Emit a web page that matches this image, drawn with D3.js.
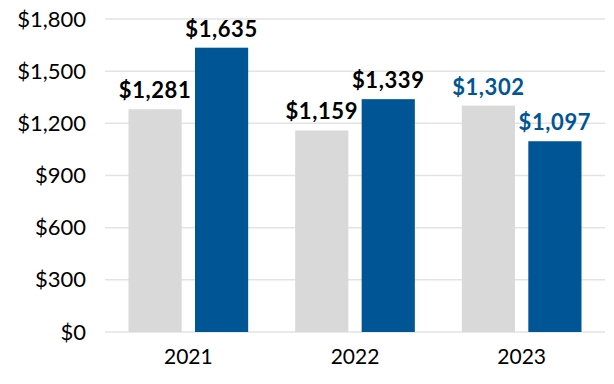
<!DOCTYPE html>
<html>
<head>
<meta charset="utf-8">
<script src="https://cdn.jsdelivr.net/npm/d3@7"></script>
<style>
  body { margin: 0; background: #fff; }
  text { font-family: "Source Sans Pro", Lato, "Noto Sans", sans-serif; }
</style>
</head>
<body>
<div id="chart"></div>
<script>
var years = ["2021", "2022", "2023"];
var seriesNames = ["prior", "current"];
var priorValues = [1281, 1159, 1302];
var currentValues = [1635, 1339, 1097];
var yTicks = [0, 300, 600, 900, 1200, 1500, 1800];

var colors = {prior: "#d9d9d9", current: "#005594"};
var labelColors = {"2021": "#000", "2022": "#000", "2023": "#005594"};

var data = years.map(function(y, i) {
    return {year: y, prior: priorValues[i], current: currentValues[i]};
});

var margin = {top: 19, right: 9, bottom: 52, left: 105},
    width = 614 - margin.left - margin.right,
    height = 384 - margin.top - margin.bottom;

var svg = d3.select("#chart").append("svg")
    .attr("width", 614)
    .attr("height", 384)
    .append("g")
    .attr("transform", `translate(${margin.left},${margin.top})`);

var x0 = d3.scaleBand()
    .domain(years)
    .range([0, width])
    .padding(0);

var x1 = d3.scaleBand()
    .domain(seriesNames)
    .range([23.5, x0.bandwidth() - 23.5])
    .paddingInner(0.2);

var y = d3.scaleLinear()
    .domain([0, 1800])
    .range([height, 0]);

// gridlines
svg.append("g")
    .selectAll("line")
    .data(yTicks)
    .enter().append("line")
    .attr("x1", 0)
    .attr("x2", width)
    .attr("y1", d => y(d))
    .attr("y2", d => y(d))
    .attr("stroke", "#e3e3e3")
    .attr("stroke-width", 1.5);

// y axis
var yAxis = svg.append("g")
    .call(d3.axisLeft(y).tickValues(yTicks).tickSize(0).tickPadding(19)
        .tickFormat(d => "$" + d3.format(",")(d)));
yAxis.select(".domain").remove();
yAxis.selectAll("text")
    .style("font-size", "22px")
    .attr("fill", "#000");

// x axis
var xAxis = svg.append("g")
    .attr("transform", `translate(0,${height})`)
    .call(d3.axisBottom(x0).tickSize(0).tickPadding(17));
xAxis.select(".domain").remove();
xAxis.selectAll("text")
    .style("font-size", "21px")
    .attr("fill", "#000");

var groups = svg.selectAll(".grp")
    .data(data)
    .enter().append("g")
    .attr("class", "grp")
    .attr("transform", d => `translate(${x0(d.year)},0)`);

groups.selectAll("rect")
    .data(d => seriesNames.map(k => ({key: k, value: d[k], year: d.year})))
    .enter().append("rect")
    .attr("x", d => x1(d.key))
    .attr("width", x1.bandwidth())
    .attr("y", d => y(d.value))
    .attr("height", d => height - y(d.value))
    .attr("fill", d => colors[d.key]);

groups.selectAll(".lbl")
    .data(d => seriesNames.map(k => ({key: k, value: d[k], year: d.year})))
    .enter().append("text")
    .attr("class", "lbl")
    .attr("x", d => x1(d.key) + x1.bandwidth() / 2)
    .attr("y", d => y(d.value) - 11)
    .attr("text-anchor", "middle")
    .style("font-size", "22px")
    .style("font-weight", "bold")
    .style("letter-spacing", "0.6px")
    .attr("fill", d => labelColors[d.year])
    .text(d => "$" + d3.format(",")(d.value));
</script>
</body>
</html>
